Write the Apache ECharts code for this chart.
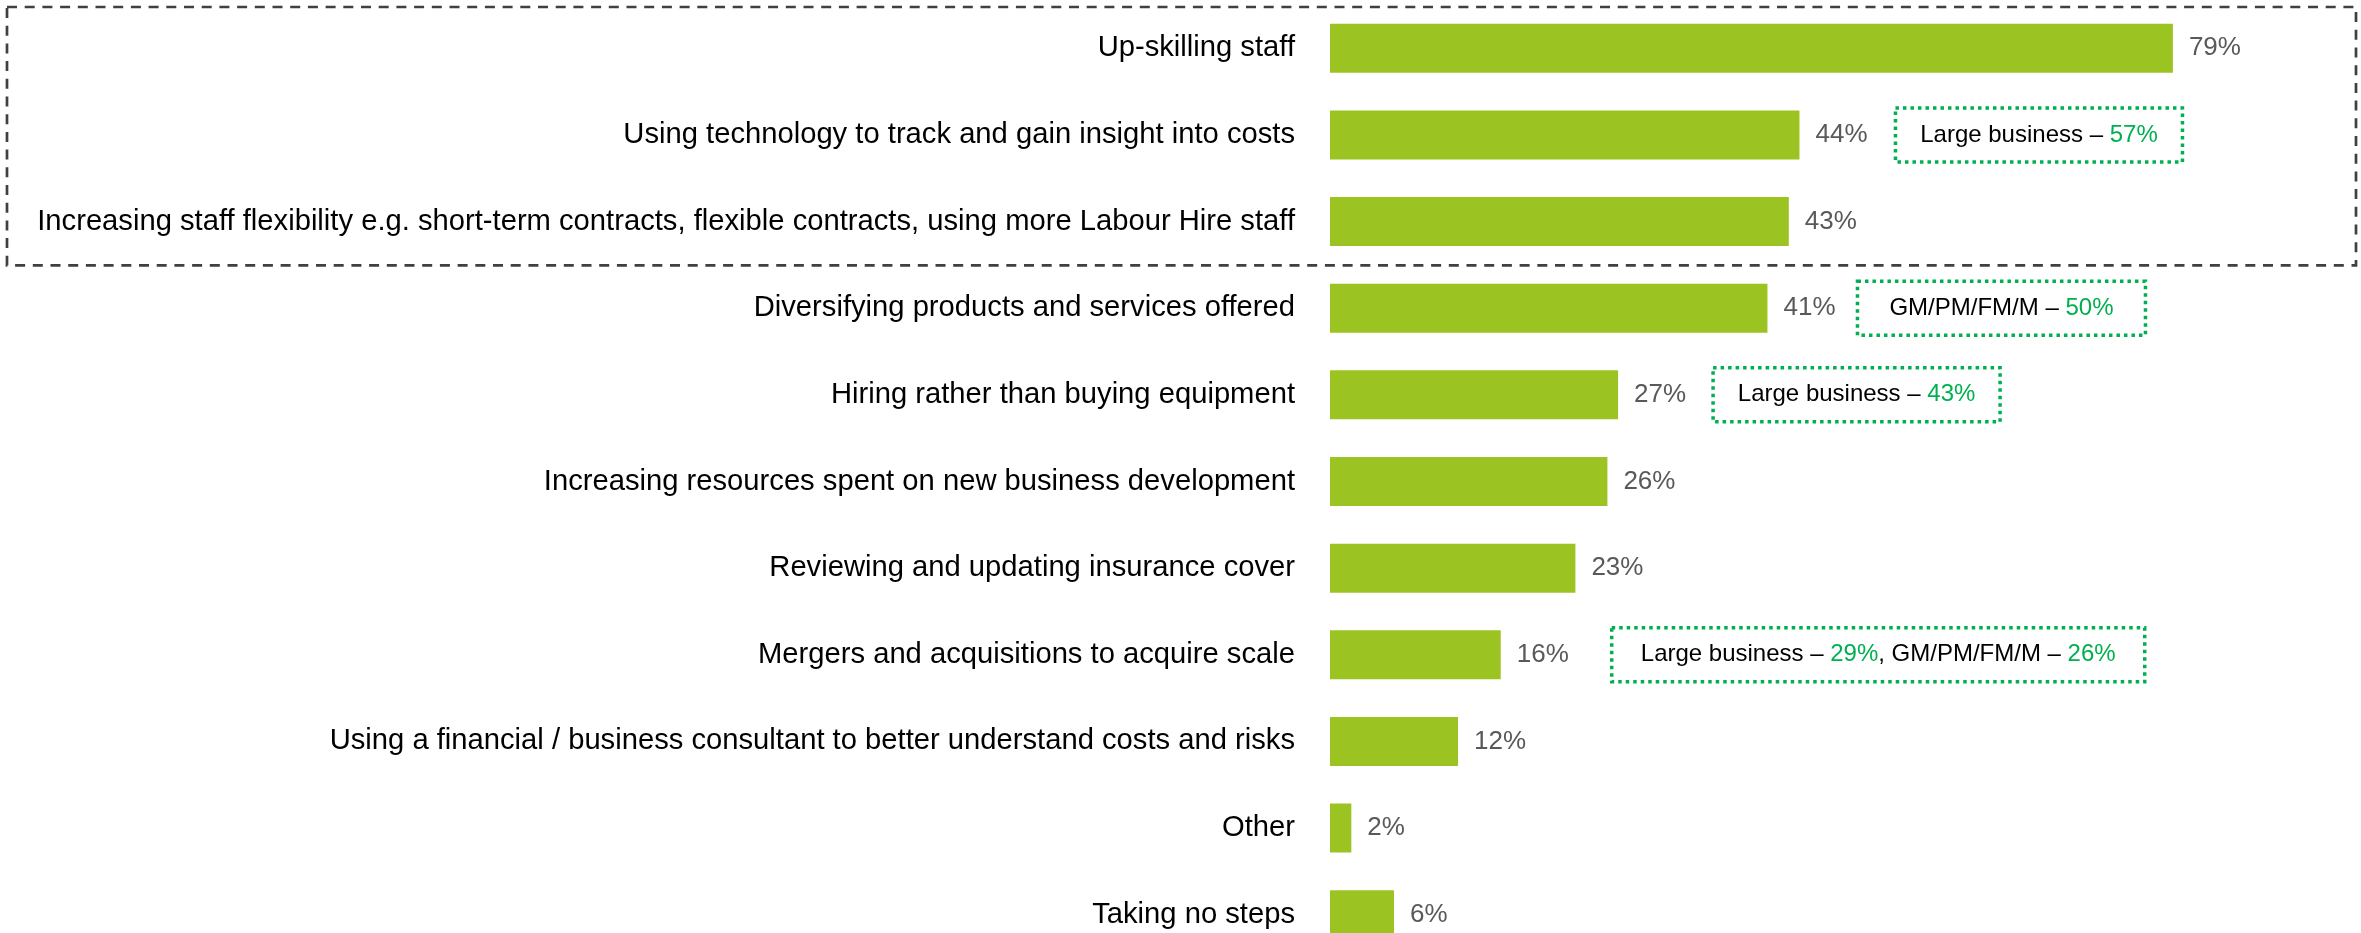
<!DOCTYPE html>
<html>
<head>
<meta charset="utf-8">
<script src="https://cdn.jsdelivr.net/npm/echarts@6/dist/echarts.min.js"></script>
<style>
  html, body { margin: 0; padding: 0; background: #ffffff; }
  #chart { width: 2361px; height: 933px; }
</style>
</head>
<body>
<div id="chart"></div>
<script>
// Steps taken, share of respondents (%)
const categories = [
  'Up-skilling staff',
  'Using technology to track and gain insight into costs',
  'Increasing staff flexibility e.g. short-term contracts, flexible contracts, using more Labour Hire staff',
  'Diversifying products and services offered',
  'Hiring rather than buying equipment',
  'Increasing resources spent on new business development',
  'Reviewing and updating insurance cover',
  'Mergers and acquisitions to acquire scale',
  'Using a financial / business consultant to better understand costs and risks',
  'Other',
  'Taking no steps'
];
const values = [79, 44, 43, 41, 27, 26, 23, 16, 12, 2, 6];

// Sub-group call-outs: which row they belong to, and the group / value pairs shown
const calloutRows = [1, 3, 4, 7];
const calloutGroups = [
  ['Large business'],
  ['GM/PM/FM/M'],
  ['Large business'],
  ['Large business', 'GM/PM/FM/M']
];
const calloutValues = [
  [57],
  [50],
  [43],
  [29, 26]
];

// Number of leading rows enclosed by the dashed highlight frame
const highlightedRows = 3;

const FONT = "'Liberation Sans', Arial, sans-serif";
const BAR_COLOR = '#9BC423';
const GREEN = '#00B050';

// Call-out box placement relative to the end of its bar (pixels)
const calloutLayout = [
  { offset: 96, width: 287 },
  { offset: 90, width: 288 },
  { offset: 95, width: 287 },
  { offset: 111, width: 533 }
];
const CALLOUT_HEIGHT = 54;

function calloutText(i) {
  return calloutGroups[i].map(function (g, j) {
    return (j > 0 ? '{k|, }' : '') + '{k|' + g + ' – }{g|' + calloutValues[i][j] + '%}';
  }).join('');
}

const chart = echarts.init(document.getElementById('chart'), null, { renderer: 'canvas' });

const GRID = { left: 1330, top: 5, width: 1024.3, height: 953, outerBoundsMode: 'none', containLabel: false };

chart.setOption({
  animation: false,
  backgroundColor: '#ffffff',
  grid: GRID,
  xAxis: {
    type: 'value',
    min: 0,
    max: 96,
    show: false
  },
  yAxis: {
    type: 'category',
    data: categories,
    inverse: true,
    axisLine: { show: false },
    axisTick: { show: false },
    splitLine: { show: false },
    axisLabel: {
      margin: 35,
      color: '#000000',
      fontSize: 29.2,
      fontFamily: FONT
    }
  },
  series: [
    {
      type: 'bar',
      data: values,
      barWidth: 49,
      itemStyle: { color: BAR_COLOR },
      label: {
        show: true,
        position: 'right',
        distance: 16,
        formatter: '{c}%',
        color: '#595959',
        fontSize: 26,
        fontFamily: FONT
      }
    },
    {
      type: 'custom',
      clip: false,
      silent: true,
      data: calloutRows.map(function (r, i) { return [values[r], r, i]; }),
      encode: { x: 0, y: 1 },
      renderItem: function (params, api) {
        const i = api.value(2);
        const p = api.coord([api.value(0), api.value(1)]);
        const lay = calloutLayout[i];
        const x = p[0] + lay.offset;
        const y = p[1] - CALLOUT_HEIGHT / 2;
        return {
          type: 'group',
          children: [
            {
              type: 'rect',
              shape: { x: x, y: y, width: lay.width, height: CALLOUT_HEIGHT },
              style: {
                fill: 'none',
                stroke: GREEN,
                lineWidth: 3.5,
                lineDash: [3.5, 4]
              }
            },
            {
              type: 'text',
              x: x + lay.width / 2,
              y: p[1],
              style: {
                text: calloutText(i),
                align: 'center',
                verticalAlign: 'middle',
                fontSize: 24,
                fontFamily: FONT,
                fill: '#000000',
                rich: {
                  k: { fill: '#000000', fontSize: 24, fontFamily: FONT },
                  g: { fill: GREEN, fontSize: 24, fontFamily: FONT }
                }
              }
            }
          ]
        };
      }
    }
  ]
});

// Dashed frame around the leading rows, positioned from the category axis
const band = GRID.height / categories.length;
const firstCenter = chart.convertToPixel({ yAxisIndex: 0 }, 0);
const frameTop = Math.max(7, firstCenter - band / 2 + 2);
const frameBottom = firstCenter + (highlightedRows - 0.5) * band + 0.5;
chart.setOption({
  graphic: [
    {
      type: 'rect',
      silent: true,
      shape: { x: 7, y: frameTop, width: 2349, height: frameBottom - frameTop },
      style: {
        fill: 'none',
        stroke: '#404040',
        lineWidth: 2.7,
        lineDash: [10, 7.7]
      }
    }
  ]
});
</script>
</body>
</html>
